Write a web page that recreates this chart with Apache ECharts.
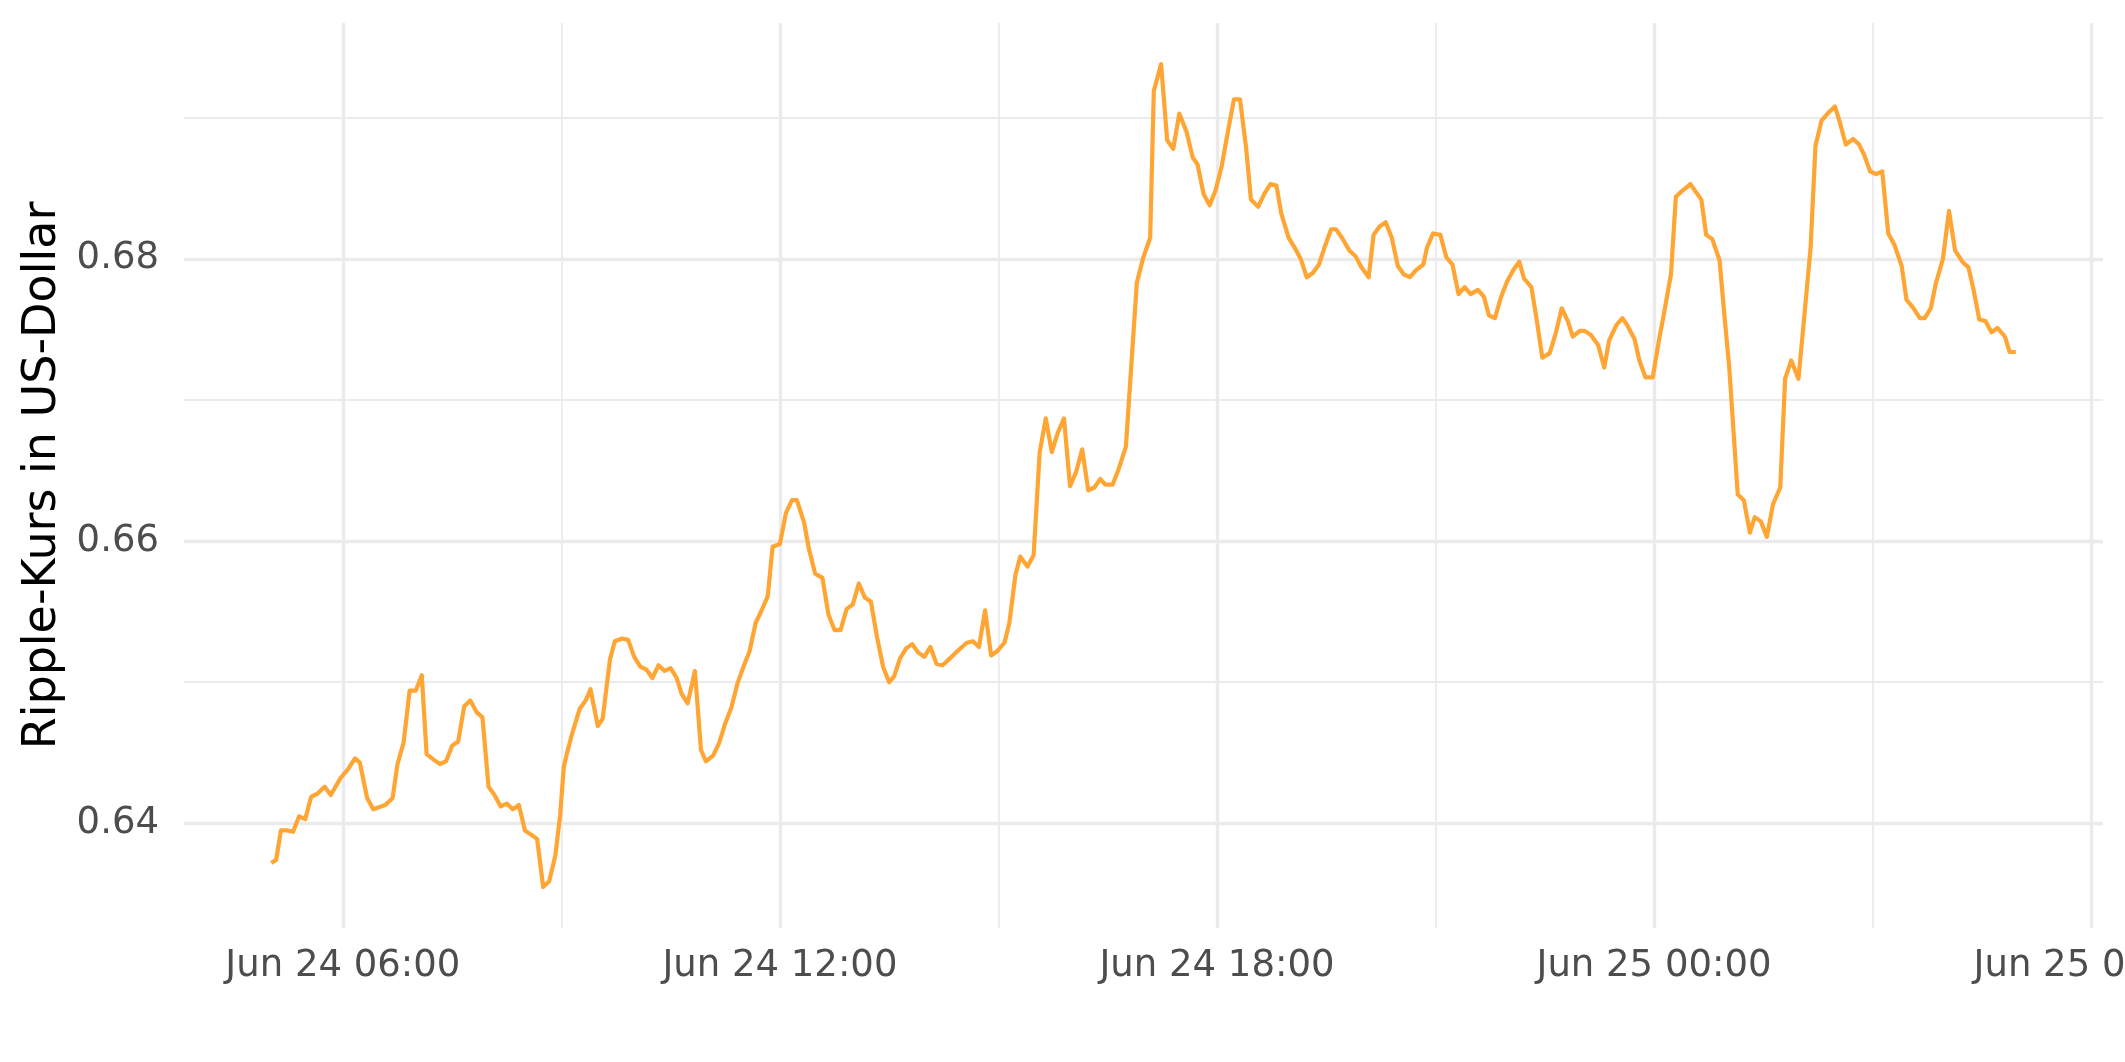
<!DOCTYPE html>
<html>
<head>
<meta charset="utf-8">
<script src="https://cdn.jsdelivr.net/npm/echarts@6/dist/echarts.min.js"></script>
<style>
html,body{margin:0;padding:0;background:#fff;}
#chart{width:2125px;height:1062px;}
</style>
</head>
<body>
<div id="chart"></div>
<script>
const minutes = [
301,305,309,314,319,324,329,334,339,345,350,358,364,370,374,380,385,395,401,405,410,415,420,425,429,435,440,445,450,455,460,465,470,
475,480,485,490,495,500,505,510,515,520,525,530,535,539,542,545,549,555,560,564,570,574,580,584,590,595,600,605,610,615,620,625,630,635,639,644,
650,655,659,665,670,675,680,685,690,695,700,705,710,714,720,725,730,734,740,744,749,755,760,765,770,775,780,785,790,795,800,805,810,814,
819,824,829,834,839,844,849,854,859,865,870,874,879,884,889,894,899,905,909,914,918,924,929,934,939,944,949,954,959,964,969,974,979,984,988,994,999,1005,
1014,1019,1025,1028,1034,1039,1044,1049,1055,1060,1064,1069,1074,1079,1084,1089,1094,1099,1104,1108,1114,1119,1124,1129,1133,1139,1144,1149,1154,1159,1164,
1169,1174,1178,1183,1189,1194,1199,1205,1209,1214,1219,1224,1229,1234,1239,1244,1250,1253,1258,1264,1269,1274,1279,1284,1289,1295,1300,1304,1309,1314,1319,1324,1329,
1333,1339,1343,1348,1354,1359,1364,1369,1373,1379,1383,1388,1394,1399,1403,1409,1414,1418,1424,1428,1433,1439,1444,1449,1454,1458,1463,1470,1474,1479,1483,1488,1494,1498,1502,1509,
1514,1519,1523,1528,1533,1538,1544,1548,1553,1559,1564,1569,1573,1578,1583,1589,1593,1598,1604,1609,1613,1618,1623,1628,1633,1638,1644,1648,1653,1659,1663,1668,1672,1678,1683,1688,1694,1699,1703,1708,1713,1718,1723,1729,1733,1738
];
// Ripple price in USD
const prices = [
0.6372,0.6374,0.6395,0.6395,0.6394,0.6405,0.6403,0.6419,0.6421,0.6426,0.6420,0.6432,0.6438,0.6446,0.6443,0.6418,0.6410,0.6413,0.6418,0.6442,0.6457,0.6494,0.6494,0.6505,0.6449,0.6445,0.6442,0.6444,0.6455,0.6458,0.6483,0.6487,0.6479,
0.6475,0.6426,0.6420,0.6412,0.6414,0.6410,0.6413,0.6395,0.6392,0.6389,0.6355,0.6359,0.6377,0.6406,0.6440,0.6451,0.6464,0.6481,0.6487,0.6495,0.6469,0.6474,0.6516,0.6529,0.6531,0.6530,0.6518,0.6511,0.6509,0.6503,0.6512,0.6508,0.6510,0.6503,0.6492,0.6485,
0.6508,0.6452,0.6444,0.6448,0.6457,0.6471,0.6482,0.6499,0.6511,0.6522,0.6542,0.6551,0.6561,0.6596,0.6598,0.6620,0.6629,0.6629,0.6613,0.6594,0.6577,0.6574,0.6548,0.6537,0.6537,0.6552,0.6555,0.6570,0.6560,0.6557,0.6532,0.6511,0.6500,0.6504,
0.6517,0.6524,0.6527,0.6521,0.6518,0.6525,0.6513,0.6512,0.6516,0.6521,0.6525,0.6528,0.6529,0.6525,0.6551,0.6519,0.6522,0.6528,0.6542,0.6576,0.6589,0.6582,0.6590,0.6663,0.6687,0.6663,0.6677,0.6687,0.6639,0.6649,0.6665,0.6636,0.6638,0.6644,0.6640,0.6640,0.6651,0.6667,
0.6783,0.6800,0.6815,0.6919,0.6938,0.6884,0.6878,0.6903,0.6890,0.6872,0.6867,0.6846,0.6838,0.6849,0.6866,0.6890,0.6913,0.6913,0.6879,0.6842,0.6837,0.6846,0.6853,0.6852,0.6832,0.6815,0.6808,0.6800,0.6787,0.6790,0.6796,
0.6809,0.6821,0.6821,0.6815,0.6806,0.6802,0.6794,0.6787,0.6817,0.6823,0.6826,0.6815,0.6795,0.6789,0.6787,0.6792,0.6796,0.6808,0.6818,0.6817,0.6801,0.6796,0.6775,0.6780,0.6775,0.6778,0.6773,0.6760,0.6758,0.6773,0.6784,0.6792,0.6798,
0.6786,0.6780,0.6759,0.6730,0.6733,0.6747,0.6765,0.6756,0.6745,0.6749,0.6749,0.6746,0.6739,0.6723,0.6742,0.6753,0.6758,0.6753,0.6743,0.6728,0.6716,0.6716,0.6742,0.6765,0.6789,0.6844,0.6848,0.6853,0.6848,0.6842,0.6817,0.6814,0.6799,0.6760,0.6723,0.6633,
0.6629,0.6606,0.6617,0.6614,0.6603,0.6626,0.6638,0.6715,0.6728,0.6715,0.6761,0.6808,0.6880,0.6898,0.6903,0.6908,0.6897,0.6881,0.6885,0.6881,0.6874,0.6862,0.6860,0.6862,0.6818,0.6810,0.6795,0.6771,0.6766,0.6758,0.6758,0.6765,0.6782,0.6800,0.6834,0.6806,0.6798,0.6794,0.6779,0.6757,0.6756,0.6748,0.6751,0.6745,0.6734,0.6734
];
// Tick positions
const xMajorTicks = [360, 720, 1080, 1440, 1800];
const xMinorTicks = [540, 900, 1260, 1620];
const yMajorTicks = [0.64, 0.66, 0.68];
const yMinorTicks = [0.65, 0.67, 0.69];
const yTitle = 'Ripple-Kurs in US-Dollar';

// ggplot-like 5% expansion
function expand(arr) {
  const lo = Math.min.apply(null, arr), hi = Math.max.apply(null, arr);
  const d = (hi - lo) * 0.05;
  return [lo - d, hi + d];
}
const xr = expand(minutes), yr = expand(prices);

function pad(n){ return (n < 10 ? '0' : '') + n; }
function fmtTime(m) {
  const day = 24 + Math.floor(m / 1440);
  const r = m - Math.floor(m / 1440) * 1440;
  return 'Jun ' + day + ' ' + pad(Math.floor(r / 60)) + ':' + pad(Math.round(r % 60));
}

const lineData = minutes.map((m, i) => [m, prices[i]]);
const grey = '#EBEBEB';
const FONT = 'DejaVu Sans';

const chart = echarts.init(document.getElementById('chart'), null, {renderer: 'canvas'});
chart.setOption({
  animation: false,
  backgroundColor: '#ffffff',
  grid: {left: 184, right: 22, top: 23, bottom: 134, containLabel: false, outerBoundsMode: 'none'},
  xAxis: {
    type: 'value', min: xr[0], max: xr[1],
    axisLine: {show: false}, axisTick: {show: false}, splitLine: {show: false},
    axisLabel: {
      customValues: xMajorTicks, formatter: v => fmtTime(v),
      fontFamily: FONT, fontSize: 37, color: '#4D4D4D', margin: 20,
      showMinLabel: true, showMaxLabel: true, hideOverlap: false
    }
  },
  yAxis: {
    type: 'value', min: yr[0], max: yr[1],
    axisLine: {show: false}, axisTick: {show: false}, splitLine: {show: false},
    axisLabel: {
      customValues: yMajorTicks, formatter: v => v.toFixed(2),
      fontFamily: FONT, fontSize: 37, color: '#4D4D4D', margin: 25
    },
    name: yTitle, nameLocation: 'middle', nameGap: 118,
    nameTextStyle: {fontFamily: FONT, fontSize: 46, color: '#000000'}
  },
  series: [
    {
      type: 'line', data: [], z: 1, silent: true,
      markLine: {
        silent: true, symbol: ['none', 'none'], label: {show: false},
        lineStyle: {color: grey, width: 1.8, type: 'solid'},
        emphasis: {disabled: true},
        data: xMinorTicks.map(v => ({xAxis: v})).concat(yMinorTicks.map(v => ({yAxis: v})))
      }
    },
    {
      type: 'line', data: [], z: 1, silent: true,
      markLine: {
        silent: true, symbol: ['none', 'none'], label: {show: false},
        lineStyle: {color: grey, width: 3.4, type: 'solid'},
        emphasis: {disabled: true},
        data: xMajorTicks.map(v => ({xAxis: v})).concat(yMajorTicks.map(v => ({yAxis: v})))
      }
    },
    {
      type: 'line', data: lineData, z: 10,
      showSymbol: false, symbol: 'none', smooth: false,
      lineStyle: {color: '#FFA533', width: 4.2, join: 'round'},
      emphasis: {disabled: true}
    }
  ]
});
</script>
</body>
</html>
